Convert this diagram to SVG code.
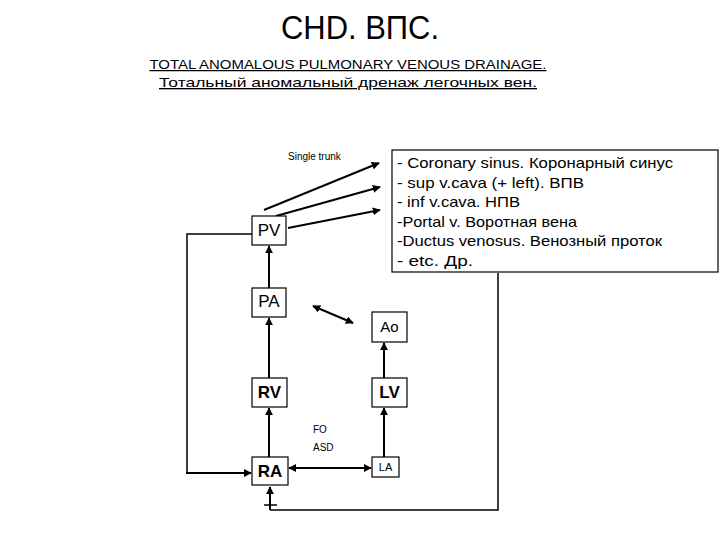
<svg xmlns="http://www.w3.org/2000/svg" width="720" height="540" viewBox="0 0 720 540">
<defs>
<style>
text{font-family:"Liberation Sans","DejaVu Sans",sans-serif;fill:#000}
.box{fill:#fff;stroke:#000;stroke-width:1.2}
.lbl{text-anchor:middle;font-size:17px}
.c{fill:none;stroke:#000;stroke-width:2}
.thin{fill:none;stroke:#000;stroke-width:1.5}
.li{font-size:14.5px}
</style>
<marker id="ah" viewBox="0 0 10 10" refX="9" refY="5" markerWidth="4" markerHeight="4" orient="auto-start-reverse">
<path d="M0,0 L10,5 L0,10 z" fill="#000"/>
</marker>
</defs>
<rect width="720" height="540" fill="#fff"/>
<g id="title">
<text x="360" y="39" text-anchor="middle" font-size="33" textLength="158" lengthAdjust="spacingAndGlyphs">CHD. ВПС.</text>
<text x="348" y="69" text-anchor="middle" font-size="12.5" text-decoration="underline" textLength="397" lengthAdjust="spacingAndGlyphs">TOTAL ANOMALOUS PULMONARY VENOUS DRAINAGE.</text>
<text x="348" y="87" text-anchor="middle" font-size="13.5" text-decoration="underline" textLength="378" lengthAdjust="spacingAndGlyphs">Тотальный аномальный дренаж легочных вен.</text>
</g>
<g id="connectors">
<line class="c" x1="264" y1="210" x2="379" y2="163" marker-end="url(#ah)"/>
<line class="c" x1="276" y1="216" x2="380" y2="187" marker-end="url(#ah)"/>
<line class="c" x1="288" y1="228" x2="380" y2="210" marker-end="url(#ah)"/>
<line class="c" x1="269" y1="288" x2="269" y2="246" marker-end="url(#ah)"/>
<line class="c" x1="269" y1="378" x2="269" y2="318" marker-end="url(#ah)"/>
<line class="c" x1="269" y1="457" x2="269" y2="408" marker-end="url(#ah)"/>
<line class="c" x1="384" y1="378" x2="384" y2="343" marker-end="url(#ah)"/>
<line class="c" x1="384" y1="457" x2="384" y2="408" marker-end="url(#ah)"/>
<line class="c" x1="313" y1="306" x2="353" y2="323" marker-start="url(#ah)" marker-end="url(#ah)"/>
<line class="c" x1="289" y1="468" x2="371" y2="468" marker-start="url(#ah)" marker-end="url(#ah)"/>
<polyline class="thin" points="252,234 187,234 187,473"/>
<line class="c" x1="186" y1="473" x2="251" y2="473" marker-end="url(#ah)"/>
<polyline class="thin" points="498,273 498,510 270,510"/>
<line class="c" x1="270" y1="510" x2="270" y2="487" marker-end="url(#ah)"/>
<line class="thin" x1="264" y1="505" x2="277" y2="505"/>
</g>
<g id="PV"><rect class="box" x="252" y="216" width="34" height="29"/><text class="lbl" x="269" y="236">PV</text></g>
<g id="PA"><rect class="box" x="252" y="288" width="34" height="29"/><text class="lbl" x="269" y="307">PA</text></g>
<g id="RV"><rect class="box" x="252" y="378" width="35" height="29"/><text class="lbl" x="269.5" y="398" font-weight="bold">RV</text></g>
<g id="RA"><rect class="box" x="252" y="457" width="36" height="28"/><text class="lbl" x="270" y="477" font-weight="bold">RA</text></g>
<g id="Ao"><rect class="box" x="372" y="312" width="35" height="30"/><text class="lbl" x="389.5" y="332" style="font-size:15px">Ao</text></g>
<g id="LV"><rect class="box" x="372" y="378" width="35" height="29"/><text class="lbl" x="389.5" y="398" font-weight="bold">LV</text></g>
<g id="LA"><rect class="box" x="372" y="457" width="27" height="20"/><text class="lbl" x="385.5" y="471" style="font-size:11px">LA</text></g>
<g id="labels">
<text x="288" y="160" font-size="10">Single trunk</text>
<text x="313" y="433" font-size="10">FO</text>
<text x="313" y="451" font-size="10">ASD</text>
</g>
<g id="destinations">
<rect class="box" x="392" y="150" width="326" height="122"/>
<text class="li" x="397" y="168" textLength="276" lengthAdjust="spacingAndGlyphs">- Coronary sinus. Коронарный синус</text>
<text class="li" x="397" y="187.5" textLength="187" lengthAdjust="spacingAndGlyphs">- sup v.cava (+ left). ВПВ</text>
<text class="li" x="397" y="207" textLength="123" lengthAdjust="spacingAndGlyphs">- inf v.cava. НПВ</text>
<text class="li" x="397" y="226.5" textLength="180" lengthAdjust="spacingAndGlyphs">-Portal v. Воротная вена</text>
<text class="li" x="397" y="246" textLength="265" lengthAdjust="spacingAndGlyphs">-Ductus venosus. Венозный  проток</text>
<text class="li" x="397" y="265.5" textLength="76" lengthAdjust="spacingAndGlyphs">- etc.  Др.</text>
</g>
</svg>
